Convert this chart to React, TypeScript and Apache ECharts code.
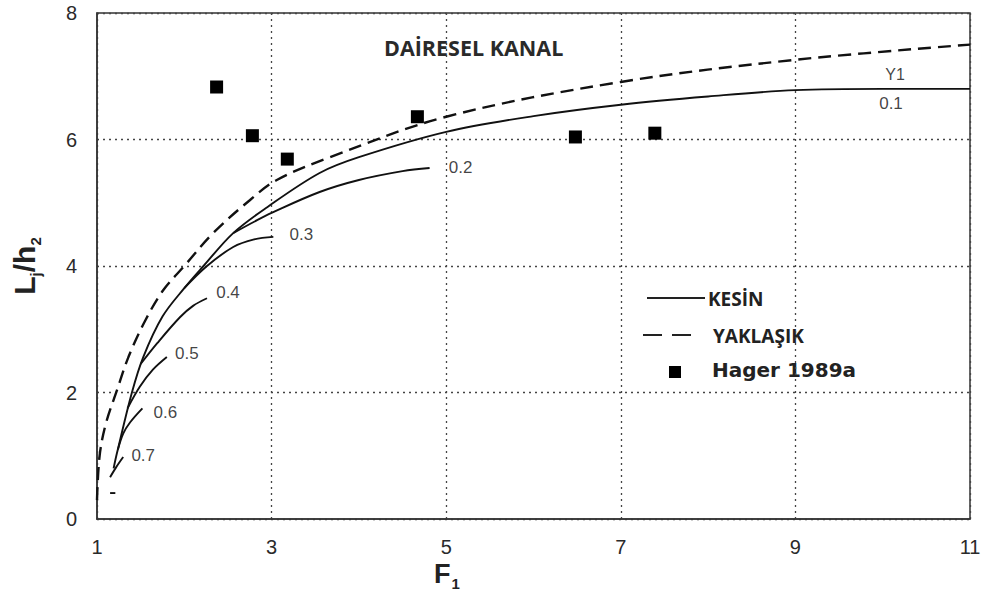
import { useEffect, useRef } from "react";
import * as echarts from "echarts";

// Tick values
const xTicks = [1, 3, 5, 7, 9, 11];
const yTicks = [0, 2, 4, 6, 8];

// KESİN (exact) curves, one per Y1 value
const k01F = [1.19, 1.23, 1.4, 1.53, 1.75, 2.0, 2.22, 2.56, 2.95, 3.55, 4.0, 5.0, 6.0, 7.0, 8.0, 9.0, 10.0, 11.0];
const k01L = [0.8, 1.05, 2.0, 2.56, 3.2, 3.65, 4.0, 4.52, 4.93, 5.47, 5.72, 6.12, 6.37, 6.55, 6.68, 6.78, 6.8, 6.8];
const k02F = [2.56, 2.8, 3.0, 3.55, 4.0, 4.5, 4.81];
const k02L = [4.52, 4.7, 4.84, 5.17, 5.36, 5.5, 5.55];
const k03F = [2.0, 2.26, 2.56, 2.8, 3.02];
const k03L = [3.65, 4.0, 4.3, 4.42, 4.46];
const k04F = [1.5, 1.69, 1.95, 2.1, 2.26];
const k04L = [2.45, 2.78, 3.19, 3.37, 3.49];
const k05F = [1.35, 1.49, 1.64, 1.8];
const k05L = [1.75, 2.09, 2.36, 2.56];
const k06F = [1.24, 1.3, 1.38, 1.52];
const k06L = [1.1, 1.35, 1.53, 1.75];
const k07F = [1.15, 1.22, 1.3];
const k07L = [0.66, 0.82, 0.98];
const k08F = [1.15, 1.21];
const k08L = [0.41, 0.41];

// YAKLAŞIK (approximate) curve
const yakF = [1.0, 1.03, 1.1, 1.23, 1.36, 1.55, 1.76, 2.0, 2.33, 2.75, 3.06, 3.67, 5.0, 7.0, 9.0, 11.0];
const yakL = [0.3, 1.0, 1.5, 2.04, 2.56, 3.13, 3.62, 4.0, 4.52, 5.04, 5.36, 5.72, 6.36, 6.91, 7.26, 7.5];

// Hager 1989a data points
const hagerF = [2.37, 2.78, 3.18, 4.67, 6.48, 7.39];
const hagerL = [6.83, 6.06, 5.69, 6.36, 6.04, 6.1];

// Curve labels (Y1 values)
const curveNames = ["0.1", "0.2", "0.3", "0.4", "0.5", "0.6", "0.7"];

const zip = (a: number[], b: number[]) => a.map((v, i) => [v, b[i]]);

export default function App() {
  const ref = useRef<HTMLDivElement>(null);
  useEffect(() => {
    document.body.style.margin = "0";
    const chart = echarts.init(ref.current!, null, { renderer: "svg" });
    const curves = [
      zip(k01F, k01L),
      zip(k02F, k02L),
      zip(k03F, k03L),
      zip(k04F, k04L),
      zip(k05F, k05L),
      zip(k06F, k06L),
      zip(k07F, k07L),
    ];
    const labelOffsets: number[][] = [
      [-79, 15],
      [31, 0],
      [28, -2],
      [21, -6],
      [20, -4],
      [23, 4],
      [20, -2],
    ];
    const labelFont = { fontFamily: "Liberation Sans, Arial", fontSize: 17, color: "#111" };
    const labelData: any[] = curves.map((c, i) => ({
      value: c[c.length - 1],
      label: {
        show: true,
        position: "inside",
        formatter: curveNames[i],
        offset: labelOffsets[i],
        ...labelFont,
      },
    }));
    labelData.push({
      value: curves[0][curves[0].length - 1],
      label: { show: true, position: "inside", formatter: "Y1", offset: [-75, -14], ...labelFont, fontSize: 16 },
    });

    const solidStyle = { color: "#111", width: 1.9, type: "solid" as const };
    const kesinSeries = curves.map((c, i) => ({
      type: "line",
      name: "KESİN " + curveNames[i],
      data: c,
      showSymbol: false,
      symbol: "none",
      smooth: 0.35,
      lineStyle: solidStyle,
      silent: true,
      z: 3,
    }));

    const axisFont = { fontFamily: "Liberation Sans, Arial", fontSize: 20, lineHeight: 18, color: "#2a2a2a" };

    chart.setOption({
      animation: false,
      backgroundColor: "#ffffff",
      grid: {
        left: 97,
        right: 19,
        top: 13,
        bottom: 76,
        show: true,
        borderColor: "#333",
        borderWidth: 1.5,
      },
      xAxis: {
        type: "value",
        min: xTicks[0],
        max: xTicks[xTicks.length - 1],
        interval: 2,
        axisLine: { show: true, lineStyle: { color: "#333", width: 1.5 } },
        axisTick: { show: false },
        axisLabel: { ...axisFont, margin: 19 },
        splitLine: { show: true, lineStyle: { color: "#444", width: 1.3, type: [2, 4] } },
      },
      yAxis: {
        type: "value",
        min: yTicks[0],
        max: yTicks[yTicks.length - 1],
        interval: 2,
        name: "{a|L}{s|j}{a|/h}{s|2}",
        nameLocation: "middle",
        nameGap: 58,
        nameRotate: 90,
        nameTextStyle: {
          rich: {
            a: { fontFamily: "Liberation Sans, Arial", fontWeight: "bold", fontSize: 30, color: "#222", verticalAlign: "bottom" },
            s: { fontFamily: "Liberation Sans, Arial", fontWeight: "bold", fontSize: 15, color: "#222", verticalAlign: "bottom", padding: [0, 0, -4, 0] },
          },
        },
        axisLine: { show: true, lineStyle: { color: "#333", width: 1.5 } },
        axisTick: { show: false },
        axisLabel: { ...axisFont, margin: 20 },
        splitLine: { show: true, lineStyle: { color: "#444", width: 1.3, type: [2, 4] } },
      },
      series: [
        ...kesinSeries,
        {
          type: "line",
          name: "short",
          data: zip(k08F, k08L),
          showSymbol: false,
          symbol: "none",
          lineStyle: solidStyle,
          silent: true,
        },
        {
          type: "line",
          name: "YAKLAŞIK",
          data: zip(yakF, yakL),
          showSymbol: false,
          symbol: "none",
          smooth: 0.35,
          lineStyle: { color: "#111", width: 2.4, type: [13, 7] },
          silent: true,
          z: 3,
        },
        {
          type: "scatter",
          name: "Hager 1989a",
          data: zip(hagerF, hagerL),
          symbol: "rect",
          symbolSize: 13,
          itemStyle: { color: "#000", opacity: 1 },
          z: 4,
        },
        {
          type: "scatter",
          name: "labels",
          data: labelData,
          symbolSize: 0,
          silent: true,
          z: 5,
        },
      ],
      graphic: [
        {
          type: "text",
          x: 434,
          y: 565,
          style: {
            text: "{a|F}{s|1}",
            rich: {
              a: { fontFamily: "Liberation Sans, Arial", fontWeight: "bold", fontSize: 27, lineHeight: 22, fill: "#222", verticalAlign: "bottom" },
              s: { fontFamily: "Liberation Sans, Arial", fontWeight: "bold", fontSize: 15, lineHeight: 14, fill: "#222", verticalAlign: "bottom", padding: [0, 0, -4, 1] },
            },
          },
        },
        {
          type: "text",
          x: 384,
          y: 36,
          style: {
            text: "DAİRESEL KANAL",
            font: "bold 21.5px 'Open Sans', sans-serif",
            fill: "#2a2a2a",
          },
        },
        { type: "line", shape: { x1: 647, y1: 298, x2: 705, y2: 298 }, style: { stroke: "#222", lineWidth: 2 } },
        {
          type: "text",
          x: 708,
          y: 299,
          style: { text: "KESİN", font: "bold 19px 'Open Sans', sans-serif", fill: "#222", verticalAlign: "middle" },
        },
        { type: "line", shape: { x1: 643, y1: 335, x2: 701, y2: 335 }, style: { stroke: "#222", lineWidth: 2.2, lineDash: [19, 10] } },
        {
          type: "text",
          x: 713,
          y: 336,
          style: { text: "YAKLAŞIK", font: "bold 19px 'Open Sans', sans-serif", fill: "#222", verticalAlign: "middle" },
        },
        { type: "rect", shape: { x: 669, y: 366, width: 12, height: 12 }, style: { fill: "#000" } },
        {
          type: "text",
          x: 712,
          y: 370,
          style: { text: "Hager 1989a", font: "bold 20px 'DejaVu Sans', sans-serif", fill: "#222", verticalAlign: "middle" },
        },
      ],
    });
    return () => chart.dispose();
  }, []);
  return <div ref={ref} style={{ position: "fixed", left: 0, top: 0, width: 989, height: 595 }} />;
}
